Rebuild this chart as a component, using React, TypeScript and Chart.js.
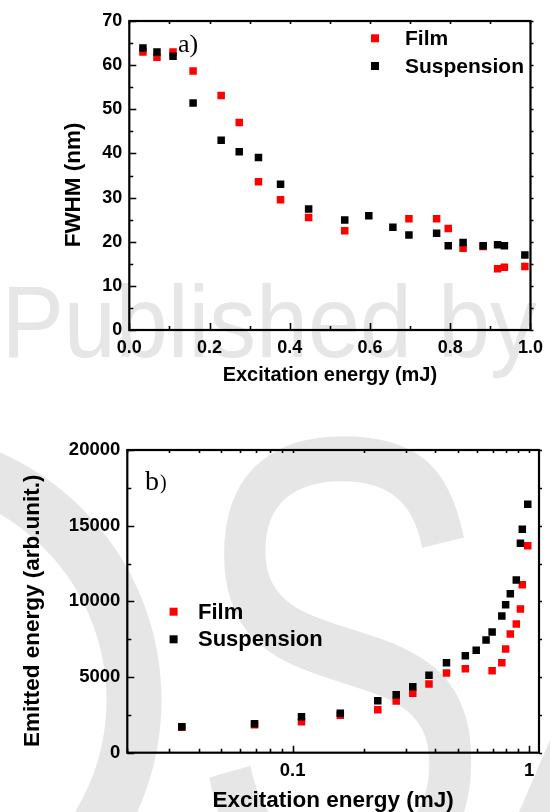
import React, { useEffect, useRef } from 'react';
import { Chart, registerables } from 'chart.js';

Chart.register(...registerables);

// ---------- data ----------
const energy = [0.034, 0.069, 0.109, 0.159, 0.229, 0.274, 0.322, 0.377, 0.447, 0.537, 0.597, 0.657, 0.697, 0.766, 0.795, 0.832, 0.882, 0.918, 0.935, 0.986];
const fwhmFilm = [63.0, 61.8, 63.0, 58.7, 53.1, 47.0, 33.6, 29.5, 25.5, 22.5, null, null, 25.2, 25.2, 23.0, 18.5, 18.9, 13.9, 14.2, 14.4];
const fwhmSuspension = [63.9, 63.0, 62.0, 51.4, 43.0, 40.4, 39.1, 33.0, 27.4, 24.9, 25.9, 23.3, 21.5, 21.9, 19.1, 19.8, 19.1, 19.3, 19.1, 17.0];
const emittedFilm = [1680, 1850, 2048, 2471, 2841, 3416, 3924, 4539, 5266, 5550, null, null, 5418, 5947, 6851, 7842, 8503, 9494, 11100, 13677];
const emittedSuspension = [1718, 1916, 2379, 2603, 3436, 3832, 4361, 5114, 5947, 6409, 6766, 7446, 7975, 9032, 9779, 10505, 11410, 13835, 14760, 16412];

const seriesNames = ['Film', 'Suspension'];
const seriesColors = ['#ff0000', '#000000'];

const fwhmTicks = [0, 10, 20, 30, 40, 50, 60, 70];
const energyLinearTicks = [0, 0.2, 0.4, 0.6, 0.8, 1.0];
const emittedTicks = [0, 5000, 10000, 15000, 20000];
const energyLogTicks = [0.02, 0.03, 0.04, 0.05, 0.06, 0.07, 0.08, 0.09, 0.1, 0.2, 0.3, 0.4, 0.5, 0.6, 0.7, 0.8, 0.9, 1];
const energyLogLabels = [0.1, 1];

const FONT = '"Liberation Sans", Arial, Helvetica, sans-serif';
const SERIF = '"Liberation Serif", "Times New Roman", serif';
const WATERMARK = '#e6e6e6';

const midpoints = (arr: number[]) => arr.slice(1).map((v, i) => (v + arr[i]) / 2);

const toPoints = (xs: number[], ys: (number | null)[]) =>
  xs.map((x, i) => ({ x, y: ys[i] })).filter((p) => p.y !== null);

// ---------- plugins ----------
const framePlugin = {
  id: 'frameTicks',
  afterDraw(chart: any, _args: any, o: any) {
    const { ctx, chartArea: a, scales } = chart;
    const xs = scales.x;
    const ys = scales.y;
    ctx.save();
    ctx.strokeStyle = '#000';
    ctx.lineWidth = 1.6;
    ctx.beginPath();
    const xTick = (v: number, len: number) => {
      const p = Math.round(xs.getPixelForValue(v)) + 0.5;
      ctx.moveTo(p, a.bottom);
      ctx.lineTo(p, a.bottom - len);
      ctx.moveTo(p, a.top);
      ctx.lineTo(p, a.top + 3);
    };
    const yTick = (v: number, len: number) => {
      const p = Math.round(ys.getPixelForValue(v)) + 0.5;
      ctx.moveTo(a.left, p);
      ctx.lineTo(a.left + len, p);
      ctx.moveTo(a.right, p);
      ctx.lineTo(a.right + 3, p);
    };
    o.xMajor.forEach((v: number) => xTick(v, 7));
    o.xMinor.forEach((v: number) => xTick(v, 4));
    o.yMajor.forEach((v: number) => yTick(v, 7));
    o.yMinor.forEach((v: number) => yTick(v, 4));
    ctx.stroke();
    ctx.lineWidth = 2.2;
    ctx.strokeRect(a.left, a.top, a.right - a.left, a.bottom - a.top);
    ctx.restore();
  },
};

const insetLegendPlugin = {
  id: 'insetLegend',
  afterDraw(chart: any, _args: any, o: any) {
    const { ctx, chartArea: a } = chart;
    ctx.save();
    ctx.font = `bold ${o.size}px ${FONT}`;
    ctx.textBaseline = 'middle';
    ctx.textAlign = 'left';
    o.names.forEach((name: string, i: number) => {
      const cx = a.left + o.x;
      const cy = a.top + o.y + i * o.row;
      ctx.fillStyle = o.colors[i];
      ctx.fillRect(cx - o.marker / 2, cy - o.marker / 2, o.marker, o.marker);
      ctx.fillStyle = '#000';
      ctx.fillText(name, cx + o.gap, cy + 1);
    });
    ctx.restore();
  },
};

const panelLabelPlugin = {
  id: 'panelLabel',
  afterDraw(chart: any, _args: any, o: any) {
    const { ctx, chartArea: a } = chart;
    ctx.save();
    ctx.fillStyle = '#000';
    ctx.textBaseline = 'alphabetic';
    ctx.textAlign = 'left';
    o.parts.forEach((p: any) => {
      ctx.font = `${p.size}px ${SERIF}`;
      ctx.fillText(p.text, a.left + p.dx, a.top + p.dy);
    });
    ctx.restore();
  },
};

// faint publisher watermark behind the plot (decoration only)
const watermarkPlugin = {
  id: 'watermark',
  beforeDraw(chart: any, _args: any, o: any) {
    const { ctx } = chart;
    ctx.save();
    ctx.fillStyle = WATERMARK;
    ctx.strokeStyle = WATERMARK;
    ctx.textBaseline = 'alphabetic';
    ctx.textAlign = 'left';
    (o.texts || []).forEach((t: any) => {
      ctx.save();
      ctx.font = `${t.size}px ${FONT}`;
      const m = ctx.measureText(t.text);
      const bw = m.actualBoundingBoxLeft + m.actualBoundingBoxRight;
      const sx = t.width / bw;
      ctx.translate(t.left + m.actualBoundingBoxLeft * sx, t.top + m.actualBoundingBoxAscent);
      ctx.scale(sx, 1);
      ctx.fillText(t.text, 0, 0);
      ctx.restore();
    });
    (o.rings || []).forEach((r: any) => {
      ctx.lineWidth = r.w;
      ctx.beginPath();
      ctx.arc(r.cx, r.cy, r.r, 0, Math.PI * 2);
      ctx.stroke();
    });
    (o.polys || []).forEach((pg: any) => {
      ctx.beginPath();
      pg.pts.forEach((p: number[], i: number) => (i ? ctx.lineTo(p[0], p[1]) : ctx.moveTo(p[0], p[1])));
      ctx.closePath();
      ctx.fill();
    });
    ctx.restore();
  },
};

// ---------- chart builders ----------
function axisCommon(size: number) {
  return {
    grid: { display: false, drawTicks: false },
    border: { display: false },
    ticks: {
      color: '#000',
      font: { family: FONT, size, weight: 'bold' as const, lineHeight: 1.2 },
      maxRotation: 0,
      minRotation: 0,
      autoSkip: false,
    },
  };
}

function dataset(i: number, xs: number[], ys: (number | null)[]) {
  return {
    label: seriesNames[i],
    data: toPoints(xs, ys),
    backgroundColor: seriesColors[i],
    borderColor: seriesColors[i],
    pointStyle: 'rect',
    pointRadius: 5.3,
    pointBorderWidth: 0,
    order: i === 0 ? 1 : 0,
  };
}

function topConfig(): any {
  const c = axisCommon(18);
  return {
    type: 'scatter',
    data: {
      datasets: [dataset(0, energy, fwhmFilm), dataset(1, energy, fwhmSuspension)],
    },
    options: {
      animation: false,
      responsive: false,
      events: [],
      layout: { padding: { left: 62.5, right: 14.5, top: 21, bottom: 20 } },
      plugins: {
        legend: { display: false },
        tooltip: { enabled: false },
        frameTicks: {
          xMajor: energyLinearTicks,
          xMinor: midpoints(energyLinearTicks),
          yMajor: fwhmTicks,
          yMinor: midpoints(fwhmTicks),
        },
        insetLegend: { names: seriesNames, colors: seriesColors, x: 245.7, y: 17.3, row: 27.7, gap: 30, marker: 8, size: 21 },
        panelLabel: { parts: [{ text: 'a)', size: 26, dx: 48.7, dy: 30.7 }] },
        watermark: {
          texts: [{ text: 'Published by', size: 102, left: 8.8, top: 283, width: 528 }],
        },
      },
      scales: {
        x: {
          type: 'linear',
          min: 0,
          max: 1,
          ...c,
          ticks: { ...c.ticks, padding: 7, callback: (v: any) => Number(v).toFixed(1) },
          afterBuildTicks: (s: any) => {
            s.ticks = energyLinearTicks.map((value) => ({ value }));
          },
          afterFit: (s: any) => {
            s.height = 55;
          },
          title: {
            display: true,
            text: 'Excitation energy (mJ)',
            color: '#000',
            padding: 0,
            font: { family: FONT, size: 20, weight: 'bold', lineHeight: 1 },
          },
        },
        y: {
          type: 'linear',
          min: 0,
          max: 70,
          ...c,
          ticks: { ...c.ticks, padding: 7, callback: (v: any) => String(v) },
          afterBuildTicks: (s: any) => {
            s.ticks = fwhmTicks.map((value) => ({ value }));
          },
          afterFit: (s: any) => {
            s.width = 66.8;
          },
          title: {
            display: true,
            text: 'FWHM (nm)   ',
            color: '#000',
            padding: 0,
            font: { family: FONT, size: 22.5, weight: 'bold', lineHeight: 1 },
          },
        },
      },
    },
    plugins: [watermarkPlugin, framePlugin, insetLegendPlugin, panelLabelPlugin],
  };
}

function bottomConfig(): any {
  const c = axisCommon(18.5);
  return {
    type: 'scatter',
    data: {
      datasets: [dataset(0, energy, emittedFilm), dataset(1, energy, emittedSuspension)],
    },
    options: {
      animation: false,
      responsive: false,
      events: [],
      layout: { padding: { left: 22, right: 11, top: 45, bottom: 0 } },
      plugins: {
        legend: { display: false },
        tooltip: { enabled: false },
        frameTicks: {
          xMajor: energyLogLabels,
          xMinor: energyLogTicks.filter((v) => !energyLogLabels.includes(v)),
          yMajor: emittedTicks,
          yMinor: midpoints(emittedTicks),
        },
        insetLegend: { names: seriesNames, colors: seriesColors, x: 46.3, y: 161.7, row: 27.6, gap: 24.4, marker: 8, size: 22 },
        panelLabel: {
          parts: [
            { text: 'b', size: 28, dx: 17.7, dy: 40 },
            { text: ')', size: 20, dx: 32.7, dy: 39 },
          ],
        },
        watermark: {
          texts: [{ text: 'S', size: 640, left: 203, top: 28, width: 270 }],
          rings: [{ cx: -109, cy: 295, r: 243, w: 55 }],
          polys: [{ pts: [[519, 407], [550, 335], [560, 335], [560, 407]] }],
        },
      },
      scales: {
        x: {
          type: 'logarithmic',
          min: 0.02,
          max: 1.1,
          ...c,
          ticks: {
            ...c.ticks,
            padding: 7.3,
            callback: (v: any) => (energyLogLabels.includes(Number(v)) ? String(v) : ''),
          },
          afterBuildTicks: (s: any) => {
            s.ticks = energyLogTicks.map((value) => ({ value }));
          },
          afterFit: (s: any) => {
            s.height = 59.3;
          },
          title: {
            display: true,
            text: 'Excitation energy (mJ)',
            color: '#000',
            padding: 0,
            font: { family: FONT, size: 22.5, weight: 'bold', lineHeight: 1 },
          },
        },
        y: {
          type: 'linear',
          min: 0,
          max: 20000,
          ...c,
          ticks: { ...c.ticks, padding: 7, callback: (v: any) => String(v) },
          afterBuildTicks: (s: any) => {
            s.ticks = emittedTicks.map((value) => ({ value }));
          },
          afterFit: (s: any) => {
            s.width = 105.3;
          },
          title: {
            display: true,
            text: 'Emitted energy (arb.unit.)   ',
            color: '#000',
            padding: 0,
            font: { family: FONT, size: 22.5, weight: 'bold', lineHeight: 1 },
          },
        },
      },
    },
    plugins: [watermarkPlugin, framePlugin, insetLegendPlugin, panelLabelPlugin],
  };
}

export default function App() {
  const topRef = useRef<HTMLCanvasElement | null>(null);
  const bottomRef = useRef<HTMLCanvasElement | null>(null);

  useEffect(() => {
    const charts: Chart[] = [];
    if (topRef.current) charts.push(new Chart(topRef.current, topConfig()));
    if (bottomRef.current) charts.push(new Chart(bottomRef.current, bottomConfig()));
    return () => charts.forEach((ch) => ch.destroy());
  }, []);

  return (
    <div
      style={{
        position: 'absolute',
        left: 0,
        top: 0,
        width: 550,
        height: 812,
        overflow: 'hidden',
        background: '#ffffff',
      }}
    >
      <canvas
        ref={topRef}
        width={550}
        height={405}
        style={{ position: 'absolute', left: 0, top: 0, width: 550, height: 405 }}
      />
      <canvas
        ref={bottomRef}
        width={550}
        height={407}
        style={{ position: 'absolute', left: 0, top: 405, width: 550, height: 407 }}
      />
    </div>
  );
}
